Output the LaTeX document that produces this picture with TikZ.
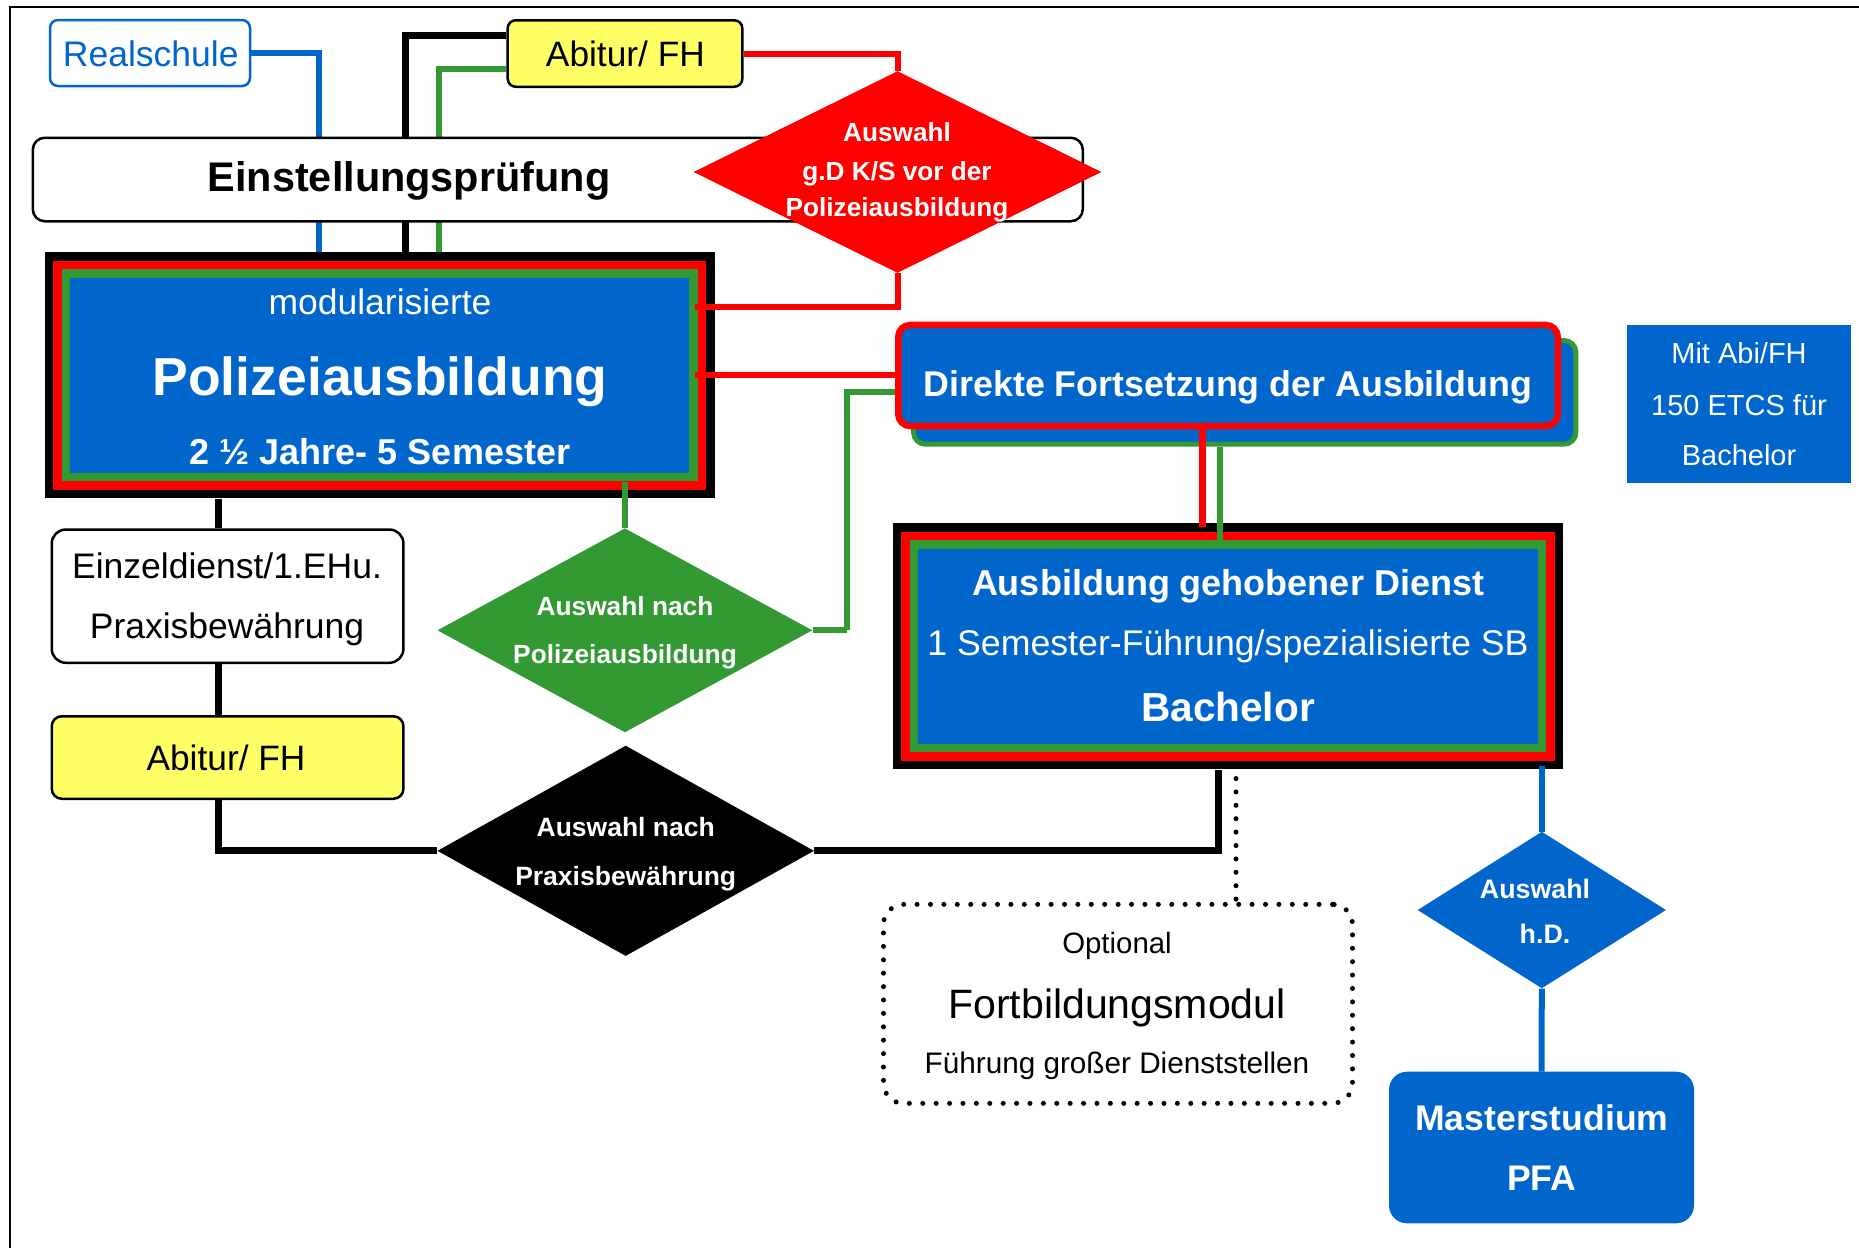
\documentclass[tikz,border=0pt]{standalone}
\usepackage{fontspec}
\setmainfont{Liberation Sans}
\usetikzlibrary{shapes.geometric,calc}
\definecolor{blu}{HTML}{0066CC}
\definecolor{grn}{HTML}{339933}
\definecolor{rd}{HTML}{FF0000}
\definecolor{yel}{HTML}{FFFF66}
\pgfdeclarelayer{background}
\pgfsetlayers{background,main}
\newcommand{\fsz}[1]{\fontsize{#1}{#1}\selectfont}

\tikzset{
  box/.style={rectangle, inner sep=0pt, line width=2.5pt},
  layered/.style={rectangle, inner sep=0pt, fill=black,
    path picture={
      \fill[rd] ([xshift=8.5pt,yshift=-8.5pt]path picture bounding box.north west)
        rectangle ([xshift=-8.5pt,yshift=8.5pt]path picture bounding box.south east);
      \fill[grn] ([xshift=17pt,yshift=-17pt]path picture bounding box.north west)
        rectangle ([xshift=-17pt,yshift=17pt]path picture bounding box.south east);
      \fill[blu] ([xshift=25.5pt,yshift=-25.5pt]path picture bounding box.north west)
        rectangle ([xshift=-25.5pt,yshift=25.5pt]path picture bounding box.south east);
    }},
  choice/.style={diamond, inner sep=0pt},
  txt/.style={inner sep=0pt, anchor=base},
  wtxt/.style={txt, text=white},
  conn/.style={line width=6pt},
  kconn/.style={line width=7pt, black},
  dotline/.style={line width=5pt, line cap=round, dash pattern=on 0pt off 13.4pt},
}

\begin{document}
\begin{tikzpicture}[x=1pt,y=-1pt]
\useasboundingbox (0,0) rectangle (1859,1248);

% frame
\draw[line width=2pt] (1859,7) -- (9.8,7) -- (9.8,1248);

% x positions of the vertical connector runs
\coordinate (xr) at (319,0);
\coordinate (xk) at (405,0);
\coordinate (xg) at (438.5,0);
\coordinate (xl) at (218,0);
\coordinate (xb) at (1218.7,0);
\coordinate (xred) at (1202.6,0);
\coordinate (xgrn) at (1220,0);
\coordinate (xd) at (1236,0);
\coordinate (gbend) at (846.7,630.3);

% entry boxes
\node[box, draw=blu, rounded corners=8pt, minimum width=200pt, minimum height=66pt] (realschule) at (150,53) {};
\node[txt, text=blu, font=\fsz{35.5}] (realschuleT) at (150.8,66.7) {Realschule};

\node[box, draw=black, fill=yel, rounded corners=8pt, minimum width=234.6pt, minimum height=66.5pt] (abitTop) at (625,53.5) {};
\node[txt, font=\fsz{35.3}] (abitTopT) at (625.4,66.7) {Abitur/ FH};

% training block
\node[layered, minimum width=670pt, minimum height=246pt] (poli) at (379.75,375.3) {};

% connectors from the entry boxes (run behind the exam bar)
\begin{pgfonlayer}{background}
  \draw[conn, blu] (realschule.east) -| (poli.north -| xr);
  \draw[kconn] ($(abitTop.west)+(0,-18.5)$) -| (poli.north -| xk);
  \draw[conn, grn] ($(abitTop.west)+(0,15.5)$) -| (poli.north -| xg);
  \draw[conn, rd] (abitTop.east) -| (897.5,71);
\end{pgfonlayer}

% entrance exam
\node[box, draw=black, fill=white, rounded corners=12pt, minimum width=1050pt, minimum height=83.5pt] (einst) at (557.8,179.5) {};
\node[txt, font=\bfseries\fsz{41.4}] (einstT) at (409,191.7) {Einstellungsprüfung};

% selection before training
\node[choice, fill=rd, minimum width=407.8pt, minimum height=201.7pt] (rdia) at (897.5,172) {};
\node[wtxt, font=\bfseries\fsz{26.2}] (rdiaT1) at (897,141.7) {Auswahl};
\node[wtxt, font=\bfseries\fsz{26.2}] (rdiaT2) at (897,180) {g.D K/S vor der};
\node[wtxt, font=\bfseries\fsz{26.2}] (rdiaT3) at (897,216.7) {Polizeiausbildung};

\node[wtxt, font=\fsz{35.5}] (poliT1) at (380,314) {modularisierte};
\node[wtxt, font=\bfseries\fsz{53.5}] (poliT2) at (380,395) {Polizeiausbildung};
\node[wtxt, font=\bfseries\fsz{36}] (poliT3) at (380,464) {2 ½ Jahre- 5 Semester};

% direct continuation
\node[box, line width=5pt, draw=grn, fill=blu, rounded corners=12pt, minimum width=662.4pt, minimum height=103.7pt] (shadow) at (1244.7,392.35) {};
\begin{pgfonlayer}{background}
  \draw[conn, grn] (shadow.west) -| (gbend);
\end{pgfonlayer}
\node[box, line width=6.5pt, draw=rd, fill=blu, rounded corners=12pt, minimum width=659.5pt, minimum height=101.1pt] (direkte) at (1228,375.5) {};
\node[wtxt, font=\bfseries\fsz{35.8}] (direkteT) at (1228,396.7) {Direkte Fortsetzung der Ausbildung};

% note on credits
\node[box, line width=0pt, fill=blu, minimum width=223.9pt, minimum height=157.7pt] (mit) at (1738.65,403.85) {};
\node[wtxt, font=\fsz{29}] (mitT1) at (1739,363.3) {Mit Abi/FH};
\node[wtxt, font=\fsz{29}] (mitT2) at (1739,415) {150 ETCS für};
\node[wtxt, font=\fsz{29}] (mitT3) at (1739,465) {Bachelor};

% upper service training
\node[layered, minimum width=670.5pt, minimum height=246pt] (gd) at (1227.75,646.3) {};
\node[wtxt, font=\bfseries\fsz{36}] (gdT1) at (1228,595) {Ausbildung gehobener Dienst};
\node[wtxt, font=\fsz{35.7}] (gdT2) at (1228,655) {1 Semester-Führung/spezialisierte SB};
\node[wtxt, font=\bfseries\fsz{40.6}] (gdT3) at (1228,721.7) {Bachelor};

% practical path
\node[box, draw=black, fill=white, rounded corners=14pt, minimum width=351.7pt, minimum height=133.2pt] (einz) at (227.6,596.15) {};
\node[txt, font=\fsz{35.5}] (einzT1) at (227,578.3) {Einzeldienst/1.EHu.};
\node[txt, font=\fsz{35.5}] (einzT2) at (227,638.3) {Praxisbewährung};

\node[box, draw=black, fill=yel, rounded corners=10pt, minimum width=351.7pt, minimum height=82.5pt] (abitL) at (227.6,757.5) {};
\node[txt, font=\fsz{35.3}] (abitLT) at (226,770) {Abitur/ FH};

\node[choice, fill=grn, minimum width=374.9pt, minimum height=204pt] (gdia) at (624.9,630.3) {};
\node[wtxt, font=\bfseries\fsz{26.3}] (gdiaT1) at (625,615) {Auswahl nach};
\node[wtxt, font=\bfseries\fsz{26.3}] (gdiaT2) at (625,663.3) {Polizeiausbildung};

\node[choice, fill=black, minimum width=376.6pt, minimum height=210.3pt] (bdia) at (625.7,850.8) {};
\node[wtxt, font=\bfseries\fsz{26.5}] (bdiaT1) at (625.7,836.7) {Auswahl nach};
\node[wtxt, font=\bfseries\fsz{26.5}] (bdiaT2) at (625.7,885) {Praxisbewährung};

% optional module
\node[box, draw=black, dotline, rounded corners=20pt, minimum width=469pt, minimum height=199pt] (fort) at (1118,1003.85) {};
\node[txt, font=\fsz{29.4}] (fortT1) at (1117,953.3) {Optional};
\node[txt, font=\fsz{41}] (fortT2) at (1117,1018.3) {Fortbildungsmodul};
\node[txt, font=\fsz{29.7}] (fortT3) at (1117,1073.3) {Führung großer Dienststellen};

% higher service
\node[choice, fill=blu, minimum width=248.4pt, minimum height=156.6pt] (bldia) at (1541.8,910) {};
\node[wtxt, font=\bfseries\fsz{26.8}] (bldiaT1) at (1535,898.3) {Auswahl};
\node[wtxt, font=\bfseries\fsz{26.8}] (bldiaT2) at (1545,943.3) {h.D.};

\node[box, line width=0pt, fill=blu, rounded corners=18pt, minimum width=305pt, minimum height=151.6pt] (master) at (1541.5,1147.5) {};
\node[wtxt, font=\bfseries\fsz{35.6}] (masterT1) at (1541.8,1130) {Masterstudium};
\node[wtxt, font=\bfseries\fsz{35.6}] (masterT2) at (1541.8,1190) {PFA};

% connectors drawn behind the boxes
\begin{pgfonlayer}{background}
  \draw[conn, grn] (gbend) -- (gdia.east);
  \draw[kconn] (poli.south -| xl) -- (einz.north -| xl);
  \draw[kconn] (einz.south -| xl) -- (abitL.north -| xl);
  \draw[kconn] (abitL.south -| xl) |- (bdia.west);
  \draw[kconn] (bdia.east) -| (gd.south -| xb);
  \draw[conn, blu] (bldia.south) -- (master.north);
\end{pgfonlayer}

% connectors drawn over the box borders
\draw[conn, rd] (rdia.south) |- ($(poli.east)+(-20,-68.6)$);
\draw[conn, rd] ($(poli.east)+(-20,0)$) -- (poli.east -| direkte.west);
\draw[conn, grn] (gdia.north) -- ($(gdia.north |- poli.south)+(0,-16.6)$);
\draw[line width=7pt, rd] (direkte.south -| xred) -- ($(gd.north -| xred)+(0,3.4)$);
\draw[line width=6.5pt, grn] (shadow.south -| xgrn) -- ($(gd.north -| xgrn)+(0,16.7)$);
\draw[dotline] ($(gd.south -| xd)+(0,9)$) -- (fort.north -| xd);
\draw[conn, blu] ($(gd.south -| bldia.north)+(0,-3.3)$) -- (bldia.north);
\end{tikzpicture}
\end{document}
